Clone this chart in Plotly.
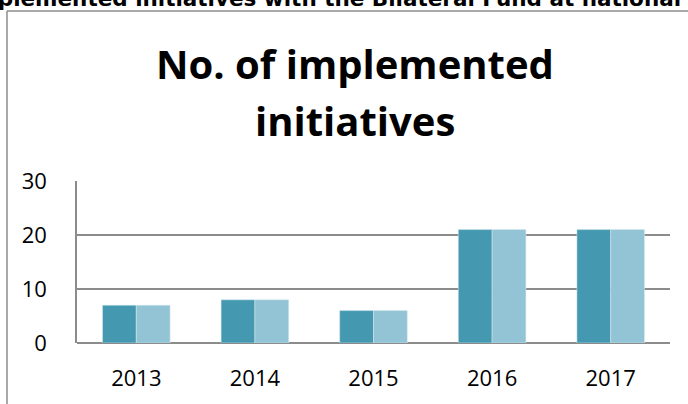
import plotly.graph_objects as go

years = ["2013", "2014", "2015", "2016", "2017"]
series_a = [7, 8, 6, 21, 21]
series_b = [7, 8, 6, 21, 21]
y_ticks = [0, 10, 20, 30]

fig = go.Figure()
fig.add_trace(go.Bar(x=years, y=series_a, marker=dict(color="#4499B0", line=dict(color="#D6EAF0", width=0.5))))
fig.add_trace(go.Bar(x=years, y=series_b, marker=dict(color="#93C4D5", line=dict(color="#D6EAF0", width=0.5))))

title_font = dict(size=40, family="Open Sans, sans-serif")
fig.update_layout(
    width=688, height=404,
    margin=dict(l=77, r=18, t=181, b=61),
    paper_bgcolor="white", plot_bgcolor="white",
    showlegend=False,
    barmode="group", bargap=0.43, bargroupgap=0,
    font=dict(family="Open Sans, sans-serif", color="black"),
    xaxis=dict(showgrid=False, showline=False, ticks="", tickfont=dict(size=22), ticklabelstandoff=20),
    yaxis=dict(range=[0, 30], tickvals=y_ticks, showgrid=True, gridcolor="#8C8C8C", gridwidth=1.5,
               showline=True, linecolor="#8C8C8C", linewidth=1.5, zeroline=True, zerolinecolor="#8C8C8C",
               zerolinewidth=1.5, ticks="", tickfont=dict(size=22), ticklabelstandoff=24),
    annotations=[
        dict(text="<b>No. of implemented</b>", xref="paper", yref="paper",
             x=(355 - 77) / 593, y=1, yshift=88, xanchor="center", yanchor="bottom",
             showarrow=False, font=title_font),
        dict(text="<b>initiatives</b>", xref="paper", yref="paper",
             x=(355 - 77) / 593, y=1, yshift=31, xanchor="center", yanchor="bottom",
             showarrow=False, font=title_font),
        dict(text="<b>implemented initiatives with the Bilateral Fund at national level</b>", xref="paper", yref="paper",
             x=(-34 - 77) / 593, y=1, yshift=168, xanchor="left", yanchor="bottom",
             showarrow=False, font=dict(size=21.5, family="DejaVu Sans, sans-serif")),
    ],
    shapes=[
        dict(type="line", xref="paper", yref="paper", x0=(7 - 77) / 593, x1=(7 - 77) / 593,
             y0=1 + 170 / 162, y1=-1, line=dict(color="#8C8C8C", width=1.5)),
        dict(type="line", xref="paper", yref="paper", x0=(7 - 77) / 593, x1=1.2,
             y0=1 + 170 / 162, y1=1 + 170 / 162, line=dict(color="#8C8C8C", width=1.5)),
    ],
)

fig.write_html("out.html")
